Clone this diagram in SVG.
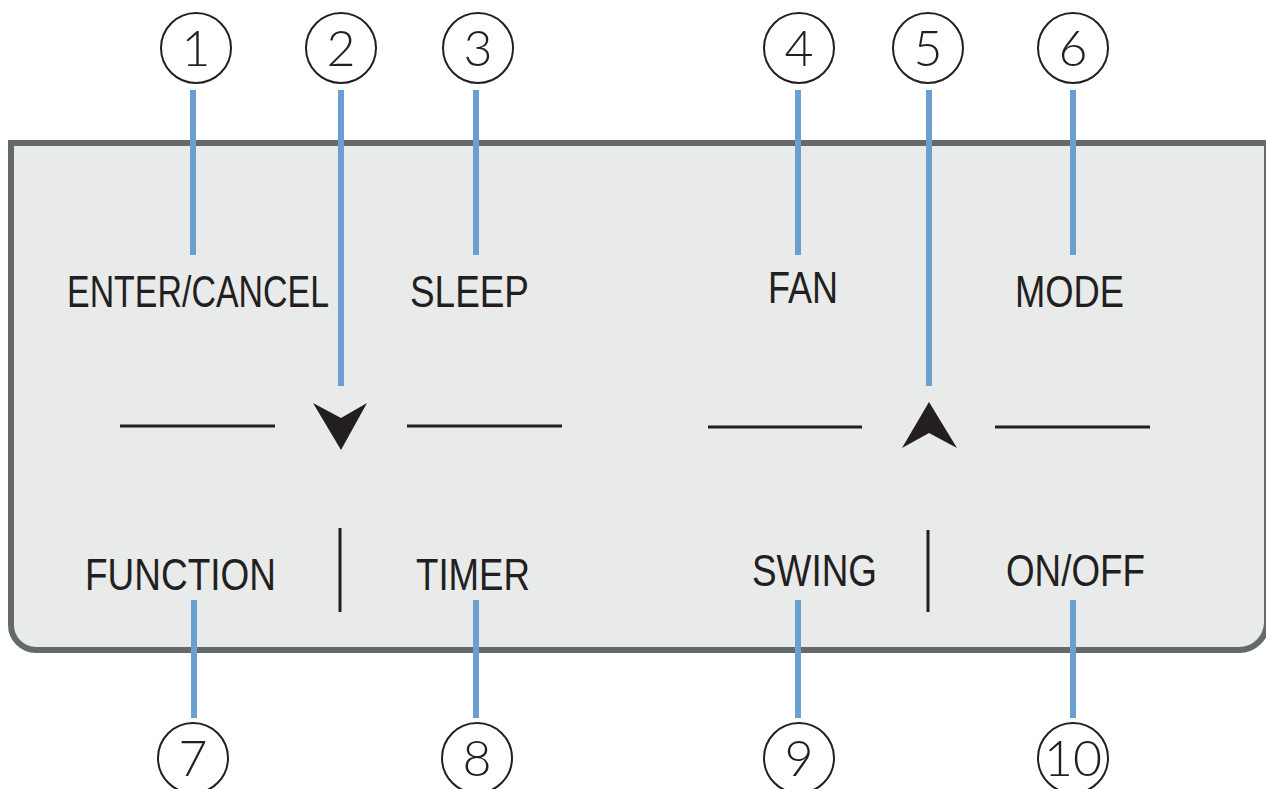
<svg xmlns="http://www.w3.org/2000/svg" width="1266" height="789" viewBox="0 0 1266 789">
<style>
.lbl{font-family:"Liberation Sans",Arial,sans-serif;font-size:44px;fill:#231f20}
.num{font-family:Lato,"Noto Sans","Liberation Sans",sans-serif;font-weight:300;font-size:50px;fill:#231f20;text-anchor:middle}
.circ{fill:#fff;stroke:#231f20;stroke-width:2}
.lead{stroke:#6a9fd0;stroke-width:6;fill:none}
.bar{stroke:#231f20;stroke-width:3;fill:none}
.arw{fill:#231f20}
</style>
<rect width="1266" height="789" fill="#fff"/>
<g id="panel">
<path d="M11,143 L1267,143 L1267,622 A28,28 0 0 1 1239,650 L36,650 A25,25 0 0 1 11,625 Z" fill="#e9eaea" stroke="#646a6b" stroke-width="6"/>
</g>
<g id="connectors">
<line class="lead" x1="193" y1="90" x2="193" y2="255"/>
<line class="lead" x1="341" y1="90" x2="341" y2="386"/>
<line class="lead" x1="476" y1="90" x2="476" y2="255"/>
<line class="lead" x1="798" y1="90" x2="798" y2="255"/>
<line class="lead" x1="929" y1="90" x2="929" y2="386"/>
<line class="lead" x1="1073" y1="90" x2="1073" y2="255"/>
<line class="lead" x1="194" y1="600" x2="194" y2="718"/>
<line class="lead" x1="476" y1="600" x2="476" y2="718"/>
<line class="lead" x1="798" y1="600" x2="798" y2="718"/>
<line class="lead" x1="1073" y1="600" x2="1073" y2="718"/>
</g>
<g id="controls">
<line class="bar" x1="120" y1="426" x2="275" y2="426"/>
<line class="bar" x1="407" y1="426" x2="562" y2="426"/>
<line class="bar" x1="708" y1="427" x2="862" y2="427"/>
<line class="bar" x1="995" y1="427" x2="1150" y2="427"/>
<line class="bar" x1="340" y1="528" x2="340" y2="612"/>
<line class="bar" x1="928" y1="530" x2="928" y2="612"/>
<polygon class="arw" points="313,403 341,418 367,403 341,450"/>
<polygon class="arw" points="929,402 957,448 929,433 902,448"/>
</g>
<g id="n1"><circle class="circ" cx="196" cy="48" r="35"/><text class="num" x="196" y="66">1</text><text class="lbl" x="67" y="307" textLength="262" lengthAdjust="spacingAndGlyphs">ENTER/CANCEL</text></g>
<g id="n2"><circle class="circ" cx="341" cy="48" r="35"/><text class="num" x="341" y="66">2</text></g>
<g id="n3"><circle class="circ" cx="478" cy="48" r="35"/><text class="num" x="478" y="66">3</text><text class="lbl" x="410" y="307" textLength="119" lengthAdjust="spacingAndGlyphs">SLEEP</text></g>
<g id="n4"><circle class="circ" cx="799" cy="48" r="35"/><text class="num" x="799" y="66">4</text><text class="lbl" x="768" y="303" textLength="70" lengthAdjust="spacingAndGlyphs">FAN</text></g>
<g id="n5"><circle class="circ" cx="928" cy="48" r="35"/><text class="num" x="928" y="66">5</text></g>
<g id="n6"><circle class="circ" cx="1073" cy="48" r="35"/><text class="num" x="1073" y="66">6</text><text class="lbl" x="1015" y="307" textLength="109" lengthAdjust="spacingAndGlyphs">MODE</text></g>
<g id="n7"><circle class="circ" cx="193" cy="758" r="35"/><text class="num" x="193" y="776">7</text><text class="lbl" x="85" y="590" textLength="191" lengthAdjust="spacingAndGlyphs">FUNCTION</text></g>
<g id="n8"><circle class="circ" cx="477" cy="758" r="35"/><text class="num" x="477" y="776">8</text><text class="lbl" x="416" y="590" textLength="114" lengthAdjust="spacingAndGlyphs">TIMER</text></g>
<g id="n9"><circle class="circ" cx="799" cy="758" r="35"/><text class="num" x="799" y="776">9</text><text class="lbl" x="752" y="586" textLength="125" lengthAdjust="spacingAndGlyphs">SWING</text></g>
<g id="n10"><circle class="circ" cx="1073" cy="758" r="35"/><text class="num" x="1073" y="776" textLength="58" lengthAdjust="spacingAndGlyphs">10</text><text class="lbl" x="1006" y="586" textLength="139" lengthAdjust="spacingAndGlyphs">ON/OFF</text></g>
</svg>
